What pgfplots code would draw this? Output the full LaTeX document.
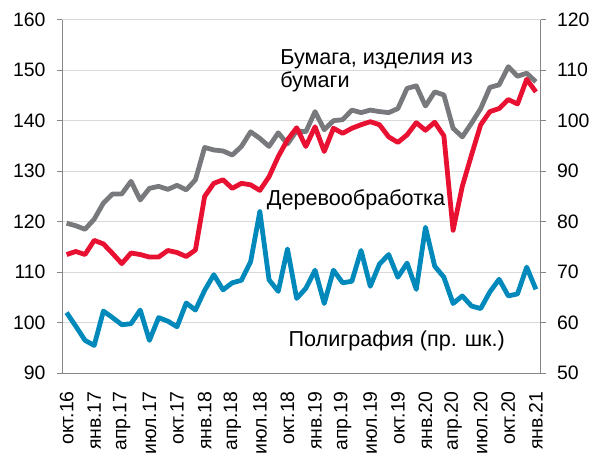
\documentclass[border=0pt]{standalone}
\usepackage{pgfplots}
\usepackage{pgfplotstable}
\pgfplotsset{compat=1.18}
\usepackage{fontspec}
\setmainfont{Liberation Sans}

\definecolor{cgray}{RGB}{120,121,124}
\definecolor{cred}{RGB}{232,17,50}
\definecolor{cblue}{RGB}{0,137,186}
\definecolor{caxis}{RGB}{134,134,134}
\definecolor{cgrid}{RGB}{217,217,217}

% index 0 = Oct 2016 ... 51 = Jan 2021
\pgfplotstableread{
i v
0 119.7
1 119.2
2 118.5
3 120.5
4 123.7
5 125.5
6 125.5
7 128.0
8 124.3
9 126.6
10 127.0
11 126.4
12 127.2
13 126.3
14 128.3
15 134.7
16 134.2
17 134.0
18 133.2
19 134.9
20 137.8
21 136.5
22 134.9
23 137.6
24 135.4
25 138.0
26 137.8
27 141.8
28 138.2
29 140.0
30 140.2
31 142.1
32 141.6
33 142.1
34 141.8
35 141.6
36 142.4
37 146.4
38 146.9
39 142.9
40 145.7
41 145.1
42 138.5
43 136.8
44 139.5
45 142.4
46 146.6
47 147.1
48 150.7
49 148.8
50 149.4
51 147.7
}\paper

\pgfplotstableread{
i v
0 113.5
1 114.1
2 113.5
3 116.3
4 115.6
5 113.7
6 111.7
7 113.8
8 113.5
9 113.0
10 113.0
11 114.3
12 113.9
13 113.1
14 114.4
15 125.0
16 127.6
17 128.3
18 126.6
19 127.6
20 127.3
21 126.2
22 128.9
23 132.9
24 136.2
25 138.6
26 134.9
27 138.8
28 133.9
29 138.5
30 137.5
31 138.5
32 139.2
33 139.8
34 139.2
35 136.8
36 135.7
37 137.2
38 139.6
39 138.1
40 139.7
41 137.0
42 118.3
43 127.0
44 133.2
45 139.2
46 141.8
47 142.4
48 144.2
49 143.3
50 148.2
51 145.7
}\wood

\pgfplotstableread{
i v
0 62.0
1 59.3
2 56.5
3 55.5
4 62.3
5 61.0
6 59.6
7 59.8
8 62.5
9 56.5
10 61.0
11 60.3
12 59.2
13 63.9
14 62.5
15 66.4
16 69.5
17 66.5
18 67.9
19 68.4
20 72.1
21 82.0
22 68.5
23 66.2
24 74.6
25 64.8
26 66.8
27 70.4
28 63.8
29 70.4
30 67.9
31 68.2
32 74.3
33 67.2
34 71.6
35 73.5
36 69.0
37 71.8
38 66.6
39 78.9
40 71.2
41 69.0
42 63.8
43 65.3
44 63.3
45 62.8
46 66.1
47 68.6
48 65.3
49 65.7
50 71.0
51 66.6
}\print

\pgfplotsset{
  base/.style={
    scale only axis, width=478.5bp, height=353.5bp,
    xmin=-0.5, xmax=51.5,
    axis line style={-, draw=caxis, line width=1bp},
    tick align=outside,
    major tick length=5bp, minor tick length=5bp,
    tick style={draw=caxis, line width=1bp},
    tick label style={font=\fontsize{19.5}{22}\selectfont},
    /pgf/number format/assume math mode=true,
    every axis plot/.append style={line width=4.8bp, line join=round, mark=none},
  }
}

\begin{document}
\begin{tikzpicture}[lbl/.style={anchor=base west, inner sep=0, font=\fontsize{21.7}{26}\selectfont}]
\begin{axis}[base,
    axis y line*=left, axis x line*=bottom,
    ymin=90, ymax=160, ytick={90,100,...,160},
    y tick label style={xshift=-8bp},
    ymajorgrids, grid style={draw=cgrid, line width=1bp},
    xtick={0,3,...,51},
    xticklabels={окт.16,янв.17,апр.17,июл.17,окт.17,янв.18,апр.18,июл.18,окт.18,янв.19,апр.19,июл.19,окт.19,янв.20,апр.20,июл.20,окт.20,янв.21},
    xtick style={draw=none},
    minor xtick={-0.5,2.5,...,50.5},
    x tick label style={rotate=90, anchor=east, inner sep=0bp, xshift=-13bp},
    clip=false,
]
\addplot[cgray] table[x=i, y=v] {\paper};
\addplot[cred] table[x=i, y=v] {\wood};
\node[lbl] at (axis cs:23.2,151.2) {Бумага, изделия из};
\node[lbl] at (axis cs:23.2,146.6) {бумаги};
\node[lbl] at (axis cs:21.75,123.3) {Деревообработка};
\node[lbl] at (axis cs:24.1,95.25) {Полиграфия (пр. шк.)};
\coordinate (sw) at (rel axis cs:0,0);
\coordinate (ne) at (rel axis cs:1,1);
\end{axis}
\begin{axis}[base,
    axis y line*=right, axis x line=none,
    ymin=50, ymax=120, ytick={50,60,...,120},
    y tick label style={xshift=8bp},
    clip=false,
]
\addplot[cblue] table[x=i, y=v] {\print};
\end{axis}
\pgfresetboundingbox
\path[use as bounding box] ([shift={(-62bp,-80.8bp)}]sw) rectangle ([shift={(56.5bp,19.7bp)}]ne);
\end{tikzpicture}
\end{document}
